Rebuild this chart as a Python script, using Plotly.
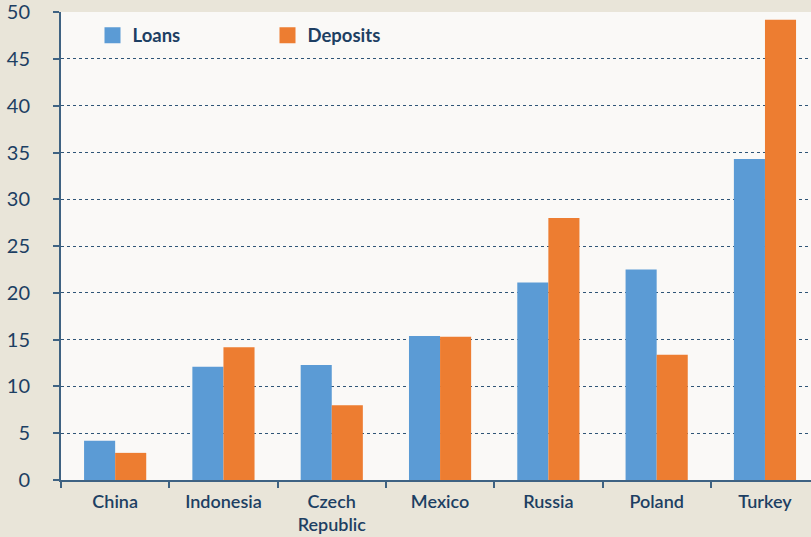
import plotly.graph_objects as go

countries = ["China", "Indonesia", "Czech<br>Republic", "Mexico", "Russia", "Poland", "Turkey"]
loans = [4.2, 12.1, 12.3, 15.4, 21.1, 22.5, 34.3]
deposits = [2.9, 14.2, 8.0, 15.3, 28.0, 13.4, 49.2]
y_ticks = [0, 5, 10, 15, 20, 25, 30, 35, 40, 45, 50]

series = [("Loans", loans, "#5b9bd5"), ("Deposits", deposits, "#ed7d31")]

navy = "#1d3f63"
axis_col = "#3e6282"
font_family = "Lato, 'Open Sans', sans-serif"

fig = go.Figure()
for name, vals, col in series:
    fig.add_trace(go.Bar(name=name, x=countries, y=vals, marker_color=col,
                         marker_line_width=0, legendgroup=name, showlegend=False))
# square legend keys, larger than the default bar swatch
for name, vals, col in series:
    fig.add_trace(go.Scatter(name=name, x=[None], y=[None], mode="markers",
                             marker=dict(symbol="square", size=19, color=col),
                             legendgroup=name, showlegend=True, hoverinfo="skip"))

fig.update_layout(
    width=811, height=537,
    barmode="group", bargap=0.426, bargroupgap=0,
    paper_bgcolor="#e9e5d9", plot_bgcolor="#faf9f7",
    margin=dict(l=61, r=0, t=12, b=57),
    font=dict(family=font_family, color=navy, size=18),
    legend=dict(orientation="h", x=0.042, y=0.99, xanchor="left", yanchor="top",
                bgcolor="rgba(0,0,0,0)", font=dict(size=18.5, color=navy, weight="bold"),
                itemwidth=30, entrywidth=130, itemsizing="trace"),
    xaxis=dict(range=[-0.5, 6.425], showline=True, linecolor=axis_col, linewidth=2,
               ticks="outside", tickson="boundaries", ticklen=6, tickcolor=axis_col,
               tickwidth=2, tickfont=dict(size=18, color=navy, weight=600),
               ticklabelstandoff=4, showgrid=False, fixedrange=True, automargin=False),
    yaxis=dict(range=[0, 50.02], tickvals=y_ticks, showline=True, linecolor=axis_col,
               linewidth=2, ticks="outside", ticklen=6, tickcolor=axis_col, tickwidth=2,
               tickfont=dict(size=20, color=navy), ticklabelstandoff=19,
               ticklabeloverflow="allow", automargin=False,
               showgrid=True, gridcolor="#2f5577", griddash="dot", gridwidth=1.3,
               zeroline=False),
)

fig.write_html("out.html")
